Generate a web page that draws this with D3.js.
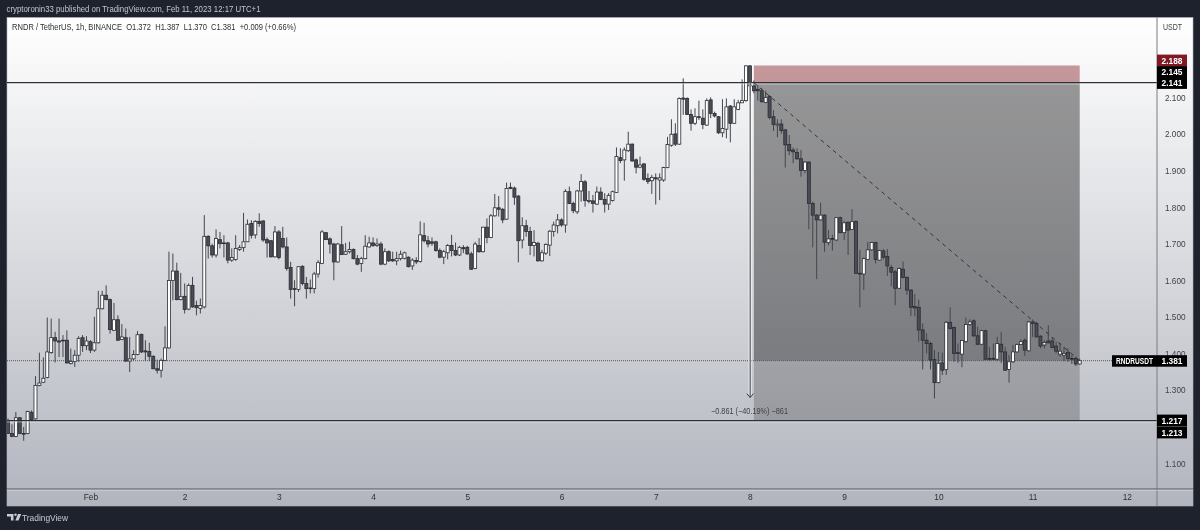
<!DOCTYPE html>
<html><head><meta charset="utf-8">
<script src="https://cdnjs.cloudflare.com/ajax/libs/d3/7.8.5/d3.min.js"></script>
<style>
html,body{margin:0;padding:0;background:#1e222d;overflow:hidden}
svg{display:block;filter:blur(0.5px)}
text{font-family:"Liberation Sans",Arial,sans-serif}
</style></head><body><svg id="c" width="1200" height="530"></svg>
<script>
const opens=[1.218,1.182,1.174,1.225,1.182,1.182,1.240,1.222,1.313,1.322,
1.335,1.403,1.444,1.435,1.437,1.437,1.373,1.379,1.396,1.444,
1.422,1.433,1.410,1.430,1.523,1.560,1.548,1.464,1.493,1.439,
1.444,1.380,1.386,1.398,1.453,1.408,1.406,1.393,1.359,1.355,
1.382,1.416,1.600,1.626,1.548,1.557,1.522,1.587,1.532,1.524,
1.528,1.721,1.695,1.670,1.712,1.703,1.703,1.656,1.658,1.685,
1.690,1.706,1.756,1.725,1.762,1.763,1.712,1.709,1.665,1.733,
1.715,1.692,1.636,1.578,1.576,1.639,1.592,1.578,1.578,1.618,
1.647,1.731,1.714,1.700,1.651,1.698,1.672,1.679,1.685,1.660,
1.647,1.660,1.692,1.703,1.696,1.700,1.645,1.679,1.658,1.654,
1.660,1.661,1.664,1.640,1.655,1.652,1.723,1.709,1.706,1.706,
1.682,1.664,1.676,1.696,1.682,1.670,1.690,1.691,1.673,1.633,
1.696,1.679,1.746,1.718,1.777,1.799,1.795,1.768,1.855,1.853,
1.831,1.711,1.750,1.734,1.696,1.702,1.654,1.675,1.697,1.734,
1.750,1.766,1.752,1.843,1.811,1.788,1.845,1.870,1.816,1.818,
1.809,1.842,1.822,1.809,1.819,1.841,1.936,1.930,1.955,1.973,
1.930,1.910,1.919,1.879,1.873,1.881,1.875,1.875,1.909,1.970,
2.001,1.973,2.099,2.098,2.054,2.030,2.048,2.044,2.025,2.094,
2.057,2.048,2.004,2.014,2.077,2.030,2.068,2.086,2.092,2.187,
2.132,2.123,2.119,2.087,2.103,2.048,2.025,2.028,2.012,1.972,
1.957,1.950,1.933,1.901,1.924,1.811,1.779,1.766,1.779,1.704,
1.715,1.711,1.772,1.731,1.759,1.740,1.762,1.620,1.618,1.658,
1.684,1.704,1.656,1.681,1.666,1.636,1.624,1.579,1.631,1.609,
1.574,1.529,1.527,1.465,1.437,1.428,1.384,1.321,1.375,1.357,
1.486,1.472,1.403,1.399,1.433,1.480,1.490,1.449,1.426,1.463,
1.387,1.387,1.385,1.426,1.405,1.357,1.378,1.405,1.425,1.437,
1.408,1.487,1.483,1.448,1.424,1.435,1.435,1.421,1.399,1.396,
1.404,1.387,1.387,1.372];
const highs=[1.223,1.207,1.241,1.227,1.200,1.244,1.245,1.339,1.403,1.390,
1.499,1.496,1.460,1.496,1.451,1.464,1.414,1.410,1.448,1.451,
1.448,1.437,1.501,1.572,1.572,1.587,1.551,1.539,1.505,1.481,
1.469,1.446,1.410,1.462,1.455,1.437,1.430,1.396,1.384,1.387,
1.475,1.679,1.674,1.649,1.621,1.592,1.592,1.610,1.545,1.551,
1.779,1.724,1.701,1.740,1.733,1.724,1.706,1.688,1.724,1.697,
1.785,1.767,1.765,1.765,1.784,1.765,1.718,1.711,1.749,1.738,
1.747,1.718,1.651,1.601,1.639,1.642,1.610,1.603,1.624,1.656,
1.738,1.733,1.718,1.703,1.703,1.749,1.703,1.706,1.688,1.670,
1.665,1.724,1.720,1.718,1.715,1.706,1.688,1.683,1.679,1.679,
1.682,1.679,1.666,1.661,1.664,1.762,1.758,1.722,1.718,1.709,
1.688,1.684,1.700,1.725,1.704,1.695,1.697,1.695,1.679,1.706,
1.716,1.747,1.770,1.782,1.837,1.831,1.798,1.868,1.868,1.857,
1.834,1.773,1.766,1.747,1.738,1.706,1.684,1.702,1.738,1.761,
1.782,1.770,1.850,1.857,1.816,1.848,1.891,1.875,1.845,1.834,
1.857,1.855,1.839,1.839,1.846,1.964,1.962,1.964,2.007,1.975,
1.934,1.939,1.921,1.893,1.889,1.893,1.893,1.911,1.993,2.041,
2.030,2.101,2.153,2.101,2.068,2.071,2.092,2.068,2.098,2.101,
2.062,2.050,2.096,2.098,2.080,2.096,2.094,2.150,2.189,2.189,
2.147,2.135,2.126,2.119,2.107,2.066,2.041,2.041,2.014,1.998,
1.964,1.962,1.957,1.927,1.926,1.816,1.782,1.813,1.781,1.738,
1.725,1.773,1.775,1.764,1.763,1.795,1.764,1.684,1.664,1.706,
1.706,1.706,1.684,1.686,1.686,1.643,1.629,1.636,1.652,1.611,
1.576,1.563,1.548,1.483,1.456,1.433,1.410,1.405,1.403,1.490,
1.527,1.474,1.428,1.437,1.499,1.494,1.494,1.474,1.466,1.465,
1.419,1.428,1.446,1.460,1.419,1.396,1.424,1.428,1.439,1.442,
1.490,1.494,1.487,1.451,1.437,1.478,1.445,1.433,1.430,1.419,
1.414,1.396,1.392,1.387];
const lows=[1.182,1.172,1.172,1.180,1.162,1.180,1.218,1.220,1.311,1.320,
1.333,1.400,1.376,1.391,1.391,1.373,1.371,1.364,1.378,1.405,
1.410,1.402,1.405,1.428,1.521,1.546,1.455,1.462,1.435,1.437,
1.378,1.350,1.382,1.396,1.402,1.380,1.380,1.358,1.346,1.335,
1.380,1.414,1.546,1.546,1.546,1.510,1.519,1.526,1.505,1.510,
1.524,1.660,1.663,1.663,1.688,1.663,1.647,1.651,1.654,1.681,
1.679,1.706,1.715,1.715,1.747,1.706,1.663,1.663,1.663,1.658,
1.688,1.627,1.551,1.530,1.569,1.587,1.551,1.565,1.565,1.608,
1.645,1.711,1.674,1.601,1.649,1.670,1.670,1.674,1.658,1.642,
1.624,1.658,1.690,1.692,1.692,1.642,1.642,1.651,1.651,1.642,
1.655,1.658,1.636,1.629,1.645,1.649,1.704,1.691,1.695,1.679,
1.661,1.645,1.658,1.666,1.667,1.667,1.675,1.670,1.629,1.631,
1.676,1.677,1.702,1.716,1.775,1.775,1.757,1.766,1.850,1.807,
1.650,1.688,1.720,1.670,1.666,1.652,1.652,1.670,1.667,1.720,
1.729,1.747,1.731,1.809,1.784,1.782,1.816,1.802,1.811,1.786,
1.807,1.820,1.786,1.793,1.816,1.840,1.921,1.873,1.952,1.925,
1.893,1.907,1.873,1.864,1.837,1.808,1.820,1.870,1.907,1.966,
1.968,1.971,2.053,2.053,2.010,2.025,2.039,2.014,2.023,2.044,
2.046,2.001,1.992,1.989,1.978,2.028,2.066,2.086,2.089,2.105,
2.112,2.092,2.087,2.085,2.041,2.009,1.992,2.001,1.909,1.943,
1.921,1.930,1.884,1.893,1.740,1.691,1.604,1.764,1.679,1.697,
1.682,1.709,1.729,1.711,1.670,1.738,1.618,1.527,1.574,1.656,
1.682,1.647,1.655,1.658,1.613,1.584,1.533,1.577,1.606,1.561,
1.503,1.502,1.433,1.357,1.401,1.357,1.278,1.319,1.342,1.342,
1.466,1.378,1.375,1.363,1.430,1.476,1.446,1.424,1.424,1.383,
1.381,1.383,1.381,1.375,1.353,1.321,1.375,1.403,1.424,1.394,
1.406,1.446,1.445,1.415,1.415,1.428,1.415,1.401,1.392,1.380,
1.378,1.372,1.366,1.370];
const closes=[1.182,1.174,1.225,1.182,1.180,1.242,1.220,1.313,1.320,1.333,
1.405,1.444,1.435,1.432,1.435,1.375,1.379,1.396,1.442,1.422,
1.435,1.410,1.430,1.523,1.560,1.548,1.466,1.493,1.437,1.446,
1.380,1.386,1.398,1.452,1.405,1.405,1.393,1.359,1.355,1.382,
1.416,1.600,1.626,1.548,1.556,1.521,1.587,1.528,1.526,1.532,
1.721,1.695,1.670,1.715,1.701,1.701,1.656,1.663,1.688,1.690,
1.706,1.754,1.724,1.762,1.756,1.711,1.703,1.665,1.733,1.663,
1.692,1.633,1.576,1.576,1.638,1.592,1.578,1.580,1.618,1.649,
1.733,1.712,1.700,1.651,1.700,1.671,1.679,1.685,1.660,1.645,
1.660,1.694,1.703,1.696,1.700,1.645,1.679,1.654,1.654,1.660,
1.672,1.676,1.638,1.656,1.651,1.725,1.709,1.700,1.702,1.682,
1.664,1.679,1.696,1.682,1.670,1.691,1.687,1.673,1.631,1.700,
1.679,1.746,1.718,1.777,1.799,1.795,1.766,1.852,1.852,1.828,
1.709,1.750,1.734,1.696,1.704,1.654,1.676,1.699,1.735,1.752,
1.766,1.752,1.844,1.811,1.791,1.845,1.871,1.819,1.819,1.811,
1.842,1.822,1.809,1.833,1.843,1.939,1.928,1.957,1.973,1.927,
1.910,1.916,1.877,1.871,1.882,1.878,1.881,1.909,1.972,2.000,
1.973,2.098,2.096,2.054,2.030,2.048,2.046,2.027,2.092,2.057,
2.050,2.004,2.016,2.075,2.030,2.075,2.086,2.092,2.187,2.132,
2.119,2.119,2.089,2.101,2.046,2.027,2.028,2.010,1.971,1.955,
1.952,1.933,1.901,1.924,1.811,1.779,1.766,1.779,1.705,1.714,
1.713,1.772,1.731,1.758,1.738,1.761,1.620,1.618,1.660,1.684,
1.704,1.658,1.682,1.664,1.640,1.623,1.579,1.633,1.609,1.574,
1.527,1.525,1.465,1.437,1.428,1.383,1.321,1.374,1.355,1.486,
1.469,1.401,1.401,1.436,1.480,1.487,1.449,1.426,1.463,1.385,
1.385,1.385,1.428,1.405,1.355,1.378,1.405,1.425,1.433,1.410,
1.487,1.483,1.446,1.421,1.431,1.430,1.417,1.407,1.407,1.401,
1.387,1.385,1.372,1.381];
const priceTicks=[2.1,2.0,1.9,1.8,1.7,1.6,1.5,1.4,1.3,1.1];
const dayLabels=["Feb","2","3","4","5","6","7","8","9","10","11","12"];
const dayStarts=[21,45,69,93,117,141,165,189,213,237,261,285];
const hLevels=[2.141,1.217];
const lastPrice=1.381;
const stopPrice=2.188, entryPrice=2.141, targetPrice=1.217;
const positionBars=[190,273];
const measure={bar:189,from:2.141,to:1.280,label:"\u22120.861 (\u221240.19%) \u2212861"};
const trend={from:[190,2.141],to:[273,1.381]};
const priceTags=[["2.188","#801922",2.188,60.5],["2.145","#000",2.145,72],["2.141","#000",2.141,83],["1.217","#000",1.217,420.5],["1.213","#000",1.213,432.5]];
const titleText="cryptoronin33 published on TradingView.com, Feb 11, 2023 12:17 UTC+1";
const legendText="RNDR / TetherUS, 1h, BINANCE\u00A0\u00A0O1.372\u00A0\u00A0H1.387\u00A0\u00A0L1.370\u00A0\u00A0C1.381\u00A0\u00A0+0.009 (+0.66%)";

const candles=d3.range(opens.length).map(i=>({i,o:opens[i],h:highs[i],l:lows[i],c:closes[i]}));
const svg=d3.select("#c");
const L=7,R=1193,T=17.5,B=506,AX=1157,TX=489;
const x=d3.scaleLinear().domain([0,273]).range([8,1079.7]);
const y=d3.scaleLinear().domain([1.381,2.141]).range([360.7,82.7]);
const defs=svg.append("defs");
const g=defs.append("linearGradient").attr("id","bg").attr("x1",0).attr("y1",0).attr("x2",0).attr("y2",1);
g.append("stop").attr("offset",0).attr("stop-color","#ffffff");
g.append("stop").attr("offset",1).attr("stop-color","#b2b5be");
defs.append("clipPath").attr("id","plot").append("rect").attr("x",L).attr("y",T).attr("width",AX-L).attr("height",TX-T);

svg.append("text").attr("x",6.5).attr("y",12.4).attr("font-size",9).attr("fill","#c3c6ce").attr("textLength",254).attr("lengthAdjust","spacingAndGlyphs").text(titleText);
svg.append("rect").attr("x",L).attr("y",T).attr("width",R-L).attr("height",B-T).attr("fill","url(#bg)").attr("stroke","#b2b5be").attr("stroke-width",0.6);

const plot=svg.append("g").attr("clip-path","url(#plot)");
const px0=x(positionBars[0]), px1=x(positionBars[1]);
plot.append("rect").attr("x",px0).attr("width",px1-px0).attr("y",y(stopPrice)).attr("height",y(entryPrice)-y(stopPrice)).attr("fill","#852129").attr("fill-opacity",0.45);
plot.append("rect").attr("x",px0).attr("width",px1-px0).attr("y",y(entryPrice)).attr("height",y(targetPrice)-y(entryPrice)).attr("fill","#000").attr("fill-opacity",0.2);
plot.append("rect").attr("x",px0).attr("width",px1-px0).attr("y",y(entryPrice)).attr("height",y(lastPrice)-y(entryPrice)).attr("fill","#000").attr("fill-opacity",0.23);
plot.append("line").attr("x1",L).attr("x2",AX).attr("y1",y(lastPrice)).attr("y2",y(lastPrice)).attr("stroke","#55585f").attr("stroke-width",1).attr("stroke-dasharray","1 1");
const cg=plot.selectAll("g.c").data(candles).join("g").attr("class","c");
cg.append("line").attr("x1",d=>x(d.i)).attr("x2",d=>x(d.i)).attr("y1",d=>y(d.h)).attr("y2",d=>y(d.l)).attr("stroke","#43464e").attr("stroke-width",1);
cg.append("rect").attr("x",d=>x(d.i)-1.5).attr("width",3)
  .attr("y",d=>y(Math.max(d.o,d.c))).attr("height",d=>Math.max(0.6,Math.abs(y(d.o)-y(d.c))))
  .attr("fill",d=>d.c>=d.o?"#ffffff":"#4a4d56").attr("stroke","#2a2c33").attr("stroke-width",0.8);
hLevels.forEach(v=>{
  plot.append("line").attr("x1",L).attr("x2",AX).attr("y1",y(v)+1.2).attr("y2",y(v)+1.2).attr("stroke","#fff").attr("stroke-opacity",0.6);
  plot.append("line").attr("x1",L).attr("x2",AX).attr("y1",y(v)).attr("y2",y(v)).attr("stroke","#2f3137").attr("stroke-width",1.3);
});
plot.append("line").attr("x1",x(trend.from[0])).attr("y1",y(trend.from[1])).attr("x2",x(trend.to[0])).attr("y2",y(trend.to[1])).attr("stroke","#33353b").attr("stroke-width",1).attr("stroke-dasharray","4 4");
const mx=x(measure.bar);
plot.append("line").attr("x1",mx+0.2).attr("x2",mx+0.2).attr("y1",y(measure.from)).attr("y2",y(measure.to)).attr("stroke","#fff").attr("stroke-width",3).attr("stroke-opacity",0.75);
plot.append("line").attr("x1",mx+0.2).attr("x2",mx+0.2).attr("y1",y(measure.from)).attr("y2",y(measure.to)).attr("stroke","#33353b").attr("stroke-width",1);
plot.append("path").attr("d",d3.line()([[mx-3,y(measure.to)-4],[mx+0.2,y(measure.to)],[mx+3.4,y(measure.to)-4]])).attr("fill","none").attr("stroke","#33353b");
svg.append("text").attr("x",749.5).attr("y",413.7).attr("text-anchor","middle").attr("font-size",8.6).attr("fill","#3f4249").attr("textLength",77).attr("lengthAdjust","spacingAndGlyphs").text(measure.label);
svg.append("line").attr("x1",AX).attr("x2",AX).attr("y1",T).attr("y2",B).attr("stroke","#7a7c84");
svg.append("line").attr("x1",L).attr("x2",R).attr("y1",TX).attr("y2",TX).attr("stroke","#55575e").attr("stroke-width",1.2);
svg.append("line").attr("x1",L).attr("x2",R).attr("y1",TX+1.2).attr("y2",TX+1.2).attr("stroke","#e0e1e6").attr("stroke-opacity",0.6);
const yAxis=svg.append("g").attr("transform",`translate(${AX+8},0)`).call(d3.axisRight(y).tickValues(priceTicks).tickFormat(d3.format(".3f")).tickSize(0).tickPadding(0));
yAxis.select(".domain").remove();
yAxis.selectAll("text").attr("font-size",8.2).attr("fill","#3f4249").attr("font-family",'"Liberation Sans",sans-serif');
const xt=d3.scaleOrdinal().domain(dayStarts).range(dayLabels);
const xAxis=svg.append("g").attr("transform",`translate(0,${TX+3})`).call(d3.axisBottom(x).tickValues(dayStarts).tickFormat(d=>xt(d)).tickSize(0).tickPadding(2));
xAxis.select(".domain").remove();
xAxis.selectAll("text").attr("font-size",8.4).attr("fill","#2d2f36").attr("font-family",'"Liberation Sans",sans-serif');
svg.append("text").attr("x",1163).attr("y",29.5).attr("font-size",8.2).attr("fill","#3f4249").attr("textLength",19).attr("lengthAdjust","spacingAndGlyphs").text("USDT");
svg.append("text").attr("x",12).attr("y",30).attr("font-size",8.8).attr("fill","#2d2f36").attr("textLength",284).attr("lengthAdjust","spacingAndGlyphs").text(legendText);
svg.append("rect").attr("x",1112).attr("y",y(lastPrice)-5.5).attr("width",45).attr("height",11.5).attr("fill","#000");
svg.append("text").attr("x",1134.5).attr("y",y(lastPrice)+3.2).attr("text-anchor","middle").attr("font-size",8.4).attr("font-weight",700).attr("fill","#fff").attr("textLength",37).attr("lengthAdjust","spacingAndGlyphs").text("RNDRUSDT");
svg.append("rect").attr("x",AX).attr("y",y(lastPrice)-5.5).attr("width",30).attr("height",11.5).attr("fill","#000");
svg.append("text").attr("x",AX+15).attr("y",y(lastPrice)+3.2).attr("text-anchor","middle").attr("font-size",8.4).attr("font-weight",700).attr("fill","#fff").text(d3.format(".3f")(lastPrice));
svg.selectAll("g.tag").data(priceTags).join("g").attr("class","tag").each(function(d){
  const s=d3.select(this);
  s.append("rect").attr("x",AX).attr("y",d[3]-5.9).attr("width",30).attr("height",11.8).attr("fill",d[1]);
  s.append("text").attr("x",AX+15).attr("y",d[3]+3.1).attr("text-anchor","middle").attr("font-size",8.4).attr("font-weight",700).attr("fill","#fff").text(d[0]);
});
svg.append("path").attr("fill","#c9ccd4").attr("d","M7 514h6.5v6.5h-2.6v-4h-3.9z M15.5 516a1.3 1.3 0 1 1 0.01 0z M18 514h3.2l-2.7 6.5h-3.2z");
svg.append("text").attr("x",22).attr("y",521.3).attr("font-size",9.2).attr("fill","#c9ccd4").attr("textLength",46).attr("lengthAdjust","spacingAndGlyphs").text("TradingView");
</script></body></html>
